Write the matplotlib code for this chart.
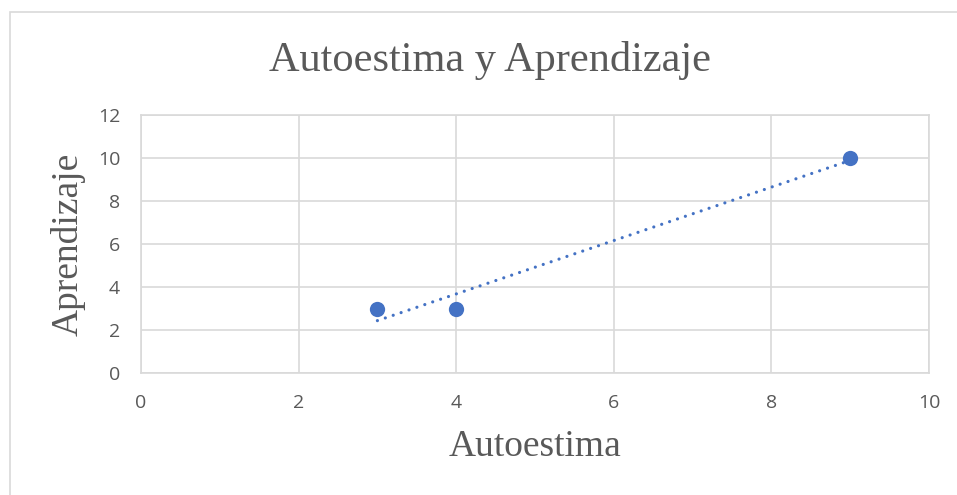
import matplotlib
matplotlib.use("Agg")
import matplotlib.pyplot as plt
import numpy as np
from matplotlib.patches import Rectangle

# Data
autoestima = [3, 4, 9]
aprendizaje = [3, 3, 10]
x_ticks = [0, 2, 4, 6, 8, 10]
y_ticks = [0, 2, 4, 6, 8, 10, 12]
title = "Autoestima y Aprendizaje"
x_label = "Autoestima"
y_label = "Aprendizaje"

W, H = 957, 495
fig = plt.figure(figsize=(W / 100, H / 100), dpi=100)
fig.patch.set_facecolor("white")

# outer chart border
fig.patches.append(Rectangle((10 / W, -0.05), 1.0, (H - 12) / H + 0.05,
                             transform=fig.transFigure, fill=False,
                             edgecolor="#d9d9d9", linewidth=1.2))

ax = fig.add_axes([141 / W, (H - 373) / H, 788 / W, 258 / H])
ax.set_xlim(0, 10)
ax.set_ylim(0, 12)
ax.set_xticks(x_ticks)
ax.set_yticks(y_ticks)
ax.grid(True, color="#d9d9d9", linewidth=1.2)
ax.set_axisbelow(True)
for s in ax.spines.values():
    s.set_color("#d9d9d9")
    s.set_linewidth(1.2)
ax.tick_params(length=0, labelsize=14, labelcolor="#595959", pad=15)
for lab in ax.get_xticklabels() + ax.get_yticklabels():
    lab.set_fontfamily("Open Sans")

# trendline (linear least squares)
coef = np.polyfit(autoestima, aprendizaje, 1)
xs = np.array([min(autoestima), max(autoestima)])
ax.plot(xs, np.polyval(coef, xs), linestyle=(0, (0.01, 2.6)), color="#4472C4",
        linewidth=2.3, dash_capstyle="round", zorder=2)

ax.plot(autoestima, aprendizaje, "o", color="#4472C4", markersize=11,
        markeredgewidth=0, zorder=3, clip_on=False)

fig.text(490 / W, 1 - 60 / H, title, ha="center", va="center",
         fontsize=30.5, family="Liberation Serif", color="#595959")
fig.text(535 / W, 1 - 447 / H, x_label, ha="center", va="center",
         fontsize=27, family="Liberation Serif", color="#595959")
fig.text(68 / W, 1 - 244 / H, y_label, ha="center", va="center", rotation=90,
         fontsize=27, family="Liberation Serif", color="#595959")

fig.savefig("out.png", dpi=100)
